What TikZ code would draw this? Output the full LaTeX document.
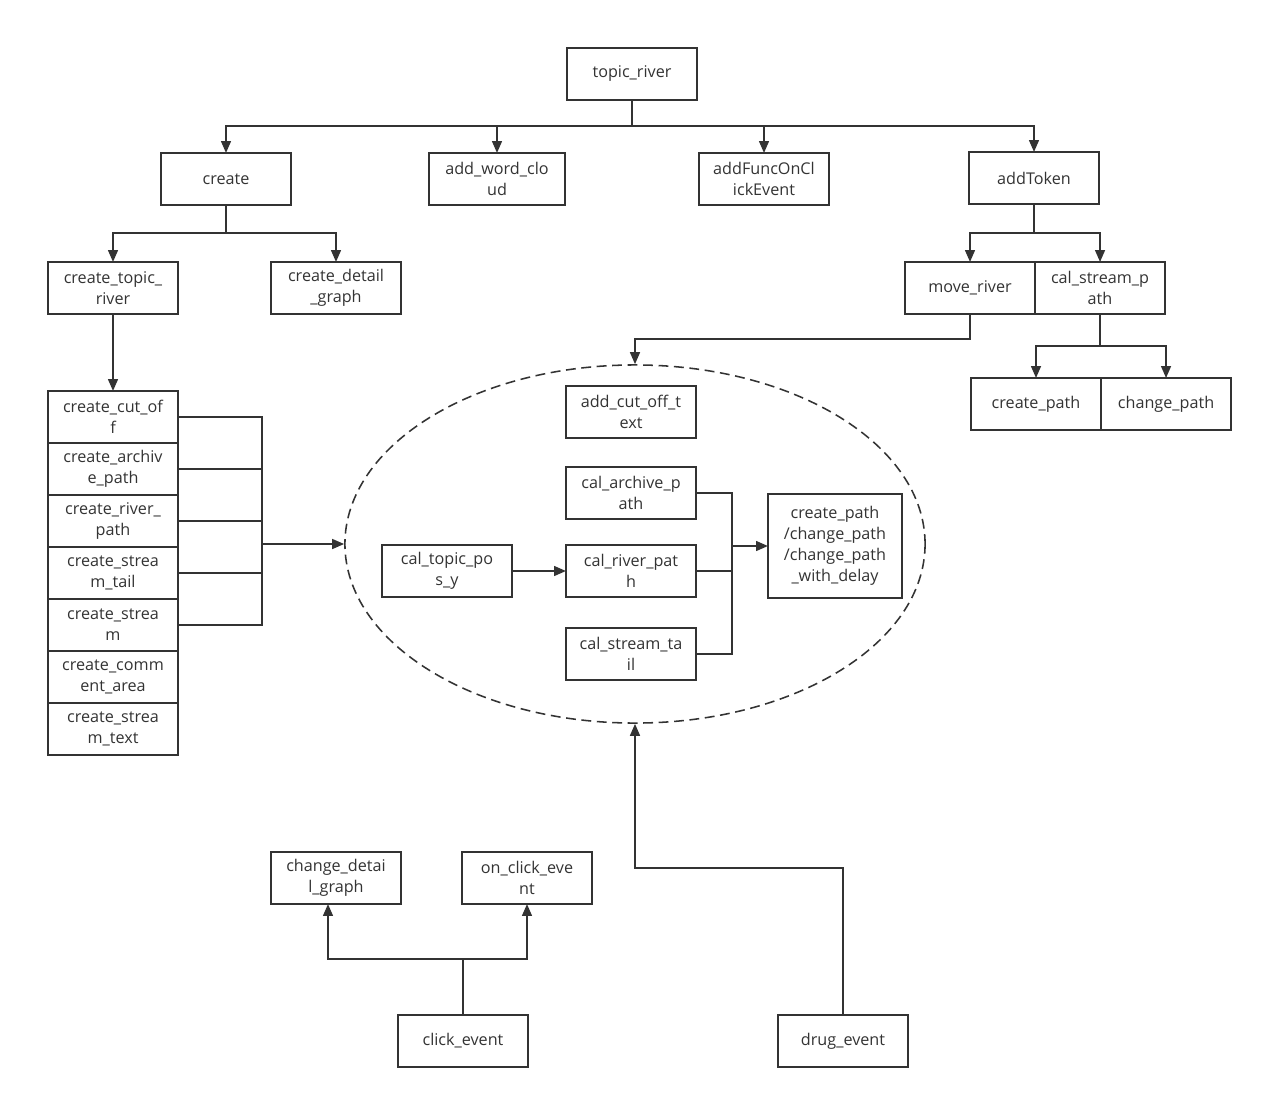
\documentclass[tikz,border=0pt]{standalone}
\usepackage{fontspec}
\setmainfont{Open Sans}
\usepackage{xcolor}
\usepackage{tikz}
\usetikzlibrary{positioning, arrows.meta, shapes.geometric}
\definecolor{LineGray}{RGB}{51,51,51}
\tikzset{
    funcbox/.style={
        draw=LineGray, line width=1.4pt, minimum width=3.25cm, minimum height=1.3cm,
        inner sep=0pt, outer sep=0pt, align=center, text=LineGray,
        font=\fontsize{11.5}{15}\selectfont
    },
    callptr/.style={
        -{Triangle[length=8.5pt, width=7pt]}, line width=1.3pt, LineGray
    },
    link/.style={
        line width=1.3pt, LineGray
    },
    groupring/.style={
        ellipse, draw=LineGray, line width=1.1pt, dash pattern=on 7pt off 4pt,
        minimum width=14.5cm, minimum height=8.95cm, inner sep=0pt
    }
}

\begin{document}
\begin{tikzpicture}[x=0.025cm, y=-0.025cm]
    \useasboundingbox (0,0) rectangle (1263,1099);

    % --- top level ---
    \node[funcbox] (root) at (632,74) {topic\_river};
    \node[funcbox] (create) at (226,179) {create};
    \node[funcbox, minimum width=3.4cm] (wordcloud) at (497,179) {add\_word\_clo\\ud};
    \node[funcbox] (funcclick) at (764,179) {addFuncOnCl\\ickEvent};
    \node[funcbox] (token) at (1034,178) {addToken};

    % --- second level ---
    \node[funcbox] (topicriver) at (113,288) {create\_topic\_\\river};
    \node[funcbox] (detailgraph) at (336,288) {create\_detail\\\_graph};
    \node[funcbox] (moveriver) at (970,288) {move\_river};
    \node[funcbox, right=0pt of moveriver] (streampath) {cal\_stream\_p\\ath};
    \node[funcbox] (createpath) at (1036,404) {create\_path};
    \node[funcbox, right=0pt of createpath] (changepath) {change\_path};

    % --- column of create functions ---
    \node[funcbox] (cutoff) at (113,417) {create\_cut\_of\\f};
    \node[funcbox, below=0pt of cutoff] (archive) {create\_archiv\\e\_path};
    \node[funcbox, below=0pt of archive] (riverpath) {create\_river\_\\path};
    \node[funcbox, below=0pt of riverpath] (streamtail) {create\_strea\\m\_tail};
    \node[funcbox, below=0pt of streamtail] (stream) {create\_strea\\m};
    \node[funcbox, below=0pt of stream] (comment) {create\_comm\\ent\_area};
    \node[funcbox, below=0pt of comment] (streamtext) {create\_strea\\m\_text};

    % --- dashed group ---
    \node[groupring] (group) at (635,544) {};
    \node[funcbox] (addcut) at (631,412) {add\_cut\_off\_t\\ext};
    \node[funcbox] (calarchive) at (631,493) {cal\_archive\_p\\ath};
    \node[funcbox] (calriver) at (631,571) {cal\_river\_pat\\h};
    \node[funcbox] (calstream) at (631,654) {cal\_stream\_ta\\il};
    \node[funcbox] (topicpos) at (447,571) {cal\_topic\_po\\s\_y};
    \node[funcbox, minimum width=3.35cm, minimum height=2.6cm] (pathops) at (835,546)
        {create\_path\\/change\_path\\/change\_path\\\_with\_delay};

    % --- events ---
    \node[funcbox] (detailchange) at (336,878) {change\_detai\\l\_graph};
    \node[funcbox] (onclick) at (527,878) {on\_click\_eve\\nt};
    \node[funcbox] (click) at (463,1041) {click\_event};
    \node[funcbox] (drug) at (843,1041) {drug\_event};

    % --- connectors ---
    \foreach \dst in {create, wordcloud, funcclick, token}
        \draw[callptr] (root.south) -- ++(0,26) -| (\dst.north);
    \foreach \dst in {topicriver, detailgraph}
        \draw[callptr] (create.south) -- ++(0,28) -| (\dst.north);
    \foreach \dst in {moveriver, streampath}
        \draw[callptr] (token.south) -- ++(0,29) -| (\dst.north);
    \foreach \dst in {createpath, changepath}
        \draw[callptr] (streampath.south) -- ++(0,32) -| (\dst.north);
    \draw[callptr] (moveriver.south) -- ++(0,25) -| (group.north);
    \draw[callptr] (topicriver) -- (cutoff);

    \coordinate (collect) at (262,544);
    \foreach \src in {cutoff, archive, riverpath, streamtail, stream}
        \draw[link] (\src.east) -| (collect);
    \draw[callptr] (collect) -- (group.west);

    \coordinate (merge) at (732,546);
    \foreach \src in {calarchive, calriver, calstream}
        \draw[link] (\src.east) -| (merge);
    \draw[callptr] (merge) -- (pathops.west);
    \draw[callptr] (topicpos) -- (calriver);

    \draw[callptr] (click.north) -- ++(0,-56) -| ([xshift=-0.2cm]detailchange.south);
    \draw[callptr] (click.north) -- ++(0,-56) -| (onclick.south);
    \draw[callptr] (drug.north) -- ++(0,-147) -| (group.south);

\end{tikzpicture}
\end{document}
